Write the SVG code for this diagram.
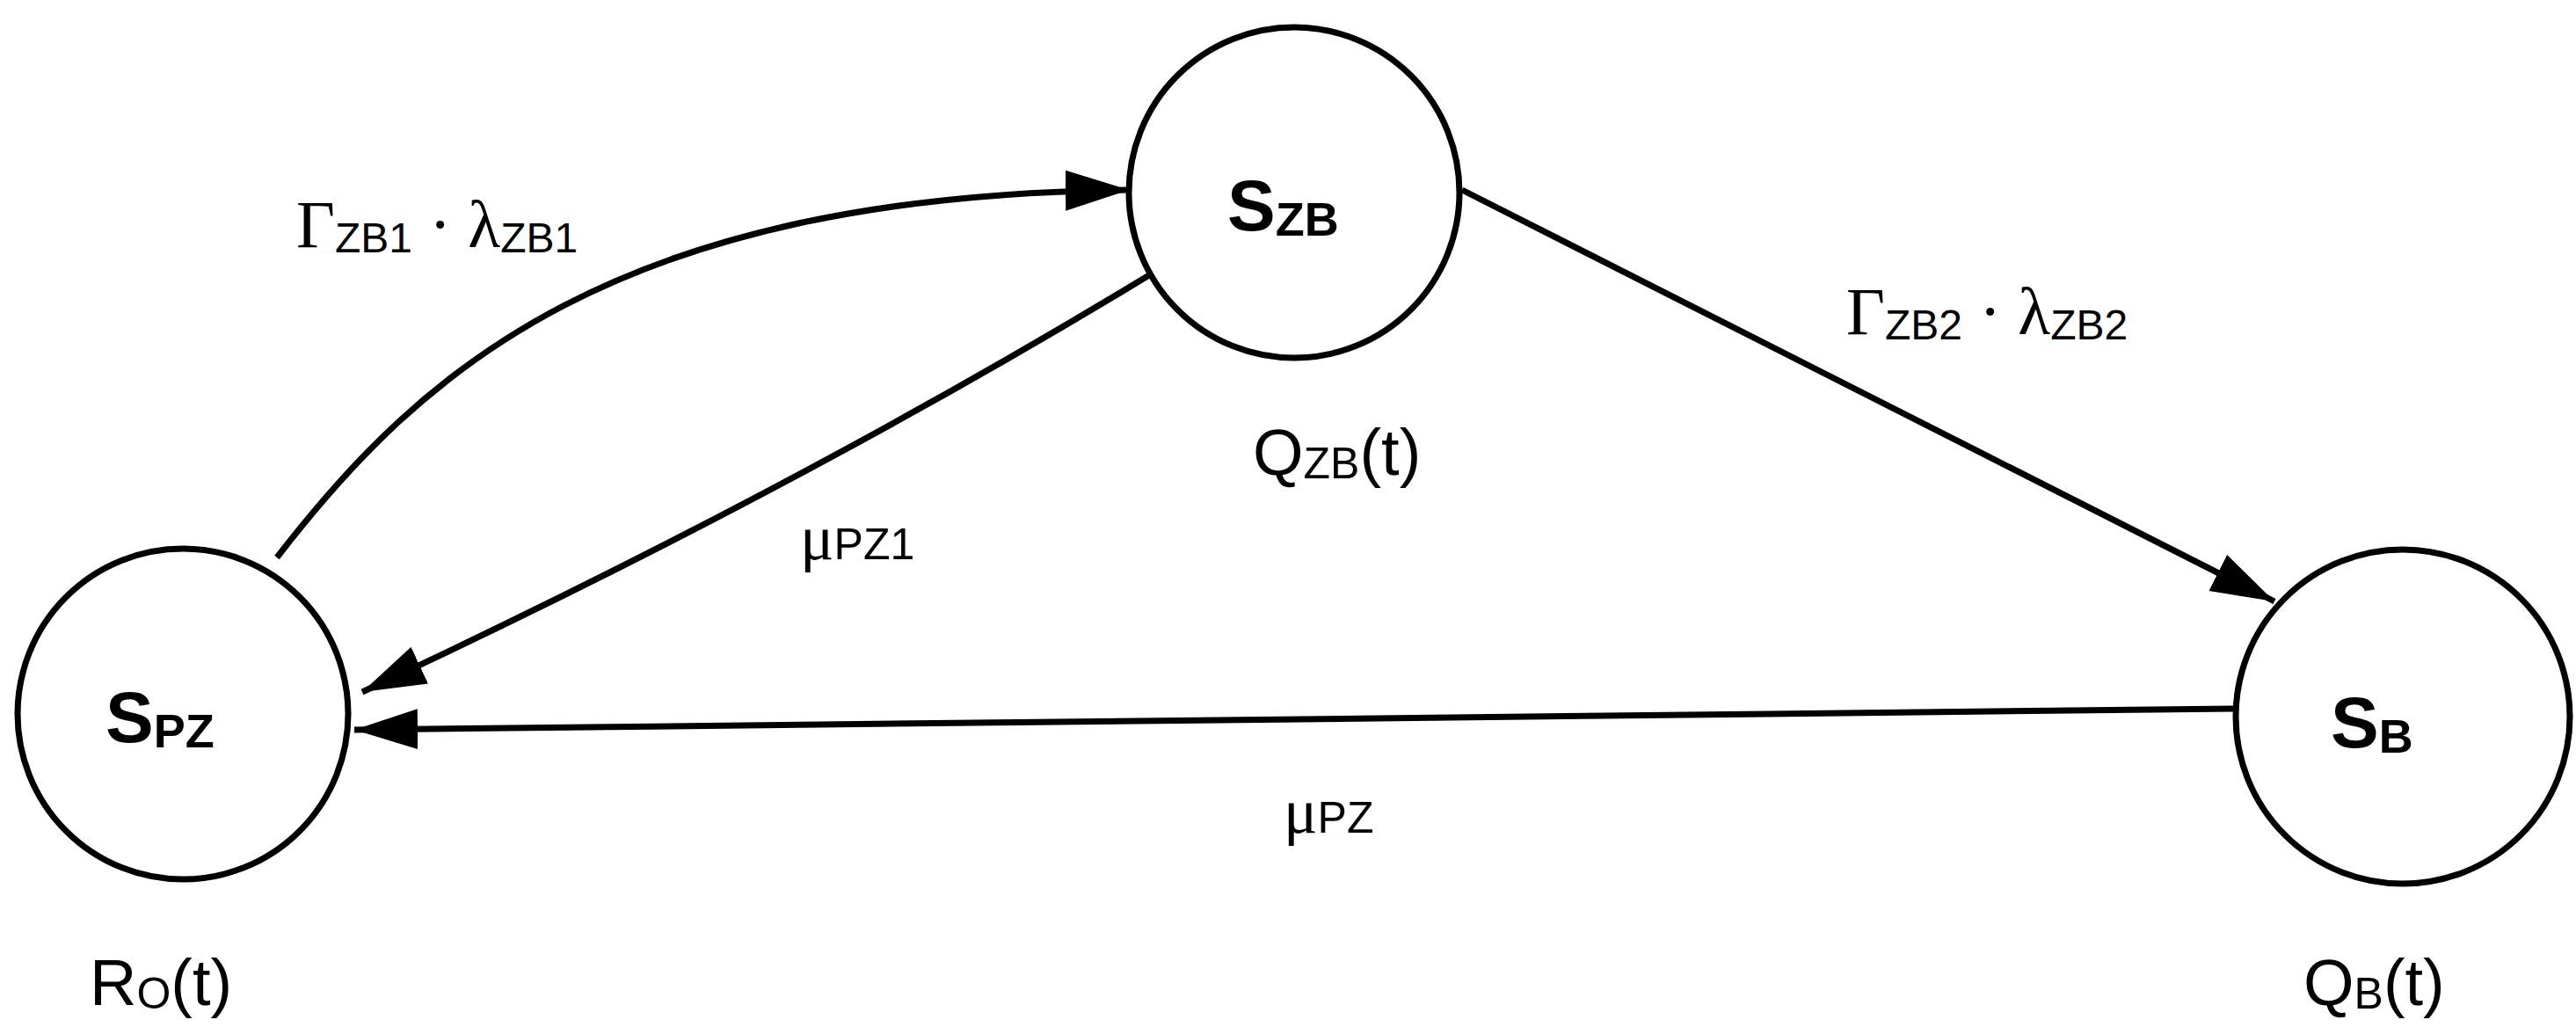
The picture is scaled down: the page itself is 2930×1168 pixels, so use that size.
<svg xmlns="http://www.w3.org/2000/svg" width="2930" height="1168" viewBox="0 0 2930 1168">
<style>
.n{fill:#fff;stroke:#000;stroke-width:7}
.e{fill:none;stroke:#000;stroke-width:7}
.s{font-family:"Liberation Sans",Arial,sans-serif;font-weight:bold;fill:#000}
.t{font-family:"Liberation Sans",Arial,sans-serif;fill:#000}
.g{font-family:"Liberation Serif","Times New Roman",serif;fill:#000}
</style>
<defs>
<marker id="a" markerUnits="userSpaceOnUse" markerWidth="76" markerHeight="50" refX="72" refY="23" orient="auto">
<path d="M0,0 L72,23 L0,46 Z" fill="#000"/>
</marker>
</defs>
<rect width="2930" height="1168" fill="#fff"/>
<g id="connectors">
<path class="e" d="M315,634 C480,420 700,222 1284,216" marker-end="url(#a)"/>
<path class="e" d="M1307,313 Q900,560 412,787" marker-end="url(#a)"/>
<path class="e" d="M1663,216 L2587,684" marker-end="url(#a)"/>
<path class="e" d="M2540,806 L403,830" marker-end="url(#a)"/>
</g>
<g id="S_ZB"><circle class="n" cx="1472" cy="219" r="188"/>
<text class="s" x="1396" y="262" font-size="82">S<tspan font-size="54" dy="6">ZB</tspan></text></g>
<g id="S_PZ"><circle class="n" cx="208" cy="812" r="188"/>
<text class="s" x="120" y="844" font-size="82">S<tspan font-size="54" dy="6">PZ</tspan></text></g>
<g id="S_B"><circle class="n" cx="2733" cy="815" r="190"/>
<text class="s" x="2651" y="850" font-size="82">S<tspan font-size="54" dy="6">B</tspan></text></g>
<g id="labels">
<text x="337" y="281" font-size="76"><tspan class="g">Γ</tspan><tspan class="t" font-size="48" dy="6">ZB1</tspan><tspan class="g" dy="-6"> · λ</tspan><tspan class="t" font-size="48" dy="6">ZB1</tspan></text>
<text x="2100" y="380" font-size="76"><tspan class="g">Γ</tspan><tspan class="t" font-size="48" dy="6">ZB2</tspan><tspan class="g" dy="-6"> · λ</tspan><tspan class="t" font-size="48" dy="6">ZB2</tspan></text>
<text x="910" y="636" font-size="72"><tspan class="g">μ</tspan><tspan class="t" font-size="50">PZ1</tspan></text>
<text x="1460" y="947" font-size="72"><tspan class="g">μ</tspan><tspan class="t" font-size="50">PZ</tspan></text>
<text class="t" x="1425" y="540" font-size="74">Q<tspan font-size="50" dy="4">ZB</tspan><tspan dy="-4">(t)</tspan></text>
<text class="t" x="102" y="1143" font-size="74">R<tspan font-size="50" dy="4">O</tspan><tspan dy="-4">(t)</tspan></text>
<text class="t" x="2620" y="1143" font-size="74">Q<tspan font-size="50" dy="4">B</tspan><tspan dy="-4">(t)</tspan></text>
</g>
</svg>
